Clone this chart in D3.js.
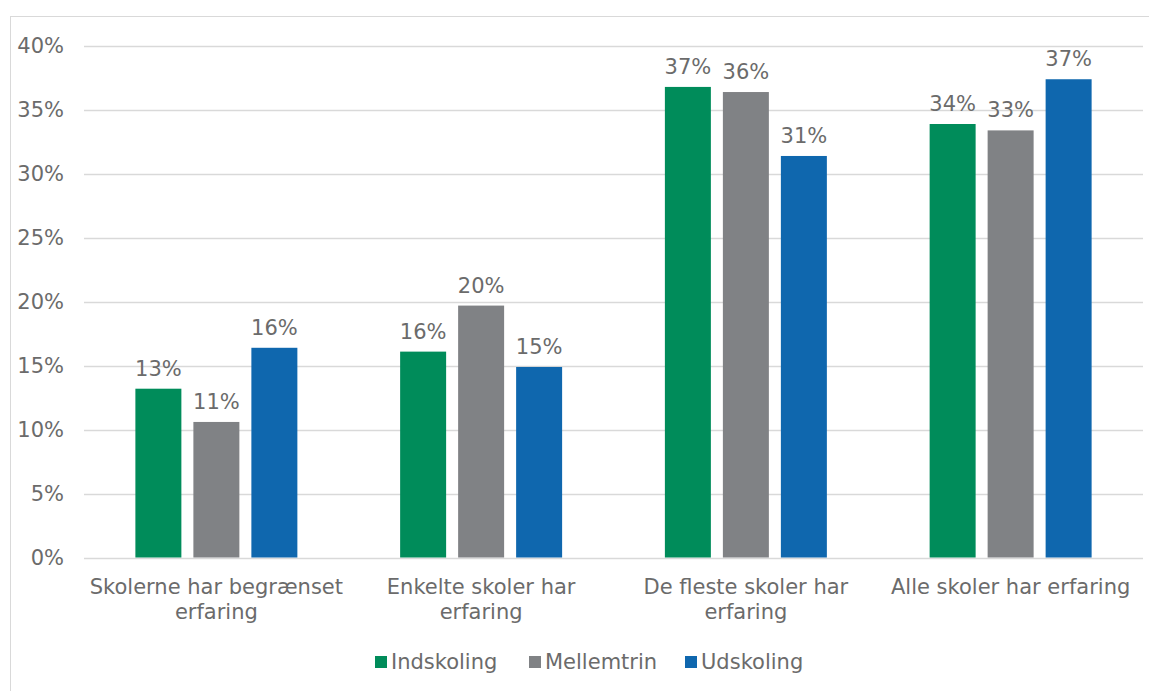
<!DOCTYPE html>
<html>
<head>
<meta charset="utf-8">
<script src="https://cdn.jsdelivr.net/npm/d3@7"></script>
<style>
  body { margin: 0; background: #fff; }
  text { font-family: "DejaVu Sans", Verdana, sans-serif; fill: #6b6b6b; }
</style>
</head>
<body>
<div id="chart-area"></div>
<script>
var categories = [["Skolerne har begrænset", "erfaring"], ["Enkelte skoler har", "erfaring"], ["De fleste skoler har", "erfaring"], ["Alle skoler har erfaring"]];
var seriesNames = ["Indskoling", "Mellemtrin", "Udskoling"];
var indskoling = [13.2, 16.1, 36.8, 33.9];
var mellemtrin = [10.6, 19.7, 36.4, 33.4];
var udskoling = [16.4, 14.9, 31.4, 37.4];
var yTicks = [0, 5, 10, 15, 20, 25, 30, 35, 40];
var colors = ["#008c5a", "#808285", "#0f67ae"];

var width = 1149, height = 691;
var margin = {top: 46, right: 6, bottom: 134, left: 84};
var plotW = width - margin.left - margin.right;
var plotH = height - margin.top - margin.bottom;
var fontSize = "21px";

var svg = d3.select("#chart-area").append("svg")
    .attr("width", width)
    .attr("height", height);

// outer chart border
svg.append("rect")
    .attr("x", 10.5).attr("y", 16.5)
    .attr("width", width).attr("height", height)
    .attr("fill", "none").attr("stroke", "#d9d9d9");

var g = svg.append("g")
    .attr("transform", "translate(" + margin.left + "," + margin.top + ")");

var data = categories.map((c, i) => ({cat: i, values: [indskoling[i], mellemtrin[i], udskoling[i]]}));

var x0 = d3.scaleBand()
    .domain(d3.range(categories.length))
    .range([0, plotW]);

var x1 = d3.scaleBand()
    .domain(d3.range(seriesNames.length))
    .range([0, x0.bandwidth()])
    .paddingInner(0.207)
    .paddingOuter(0.886);

var y = d3.scaleLinear()
    .domain([0, 40])
    .range([plotH + 0.5, 0]);

// gridlines
g.selectAll(".grid").data(yTicks).enter()
    .append("line")
    .attr("x1", 0).attr("x2", plotW)
    .attr("y1", d => Math.round(y(d)) + 0.5)
    .attr("y2", d => Math.round(y(d)) + 0.5)
    .attr("stroke", "#d9d9d9").attr("stroke-width", 1.5);

// y axis labels
var leftAxis = d3.axisLeft(y)
    .tickValues(yTicks)
    .tickSize(0)
    .tickPadding(20)
    .tickFormat(d => d + "%");
var ya = g.append("g").attr("class", "left axis").call(leftAxis);
ya.select(".domain").remove();
ya.selectAll("text").attr("font-size", fontSize).attr("fill", "#6b6b6b")
    .attr("font-family", "DejaVu Sans, Verdana, sans-serif");

// bars
var groups = g.selectAll(".group").data(data).enter()
    .append("g")
    .attr("transform", d => "translate(" + x0(d.cat) + ",0)");

groups.selectAll("rect").data(d => d.values).enter()
    .append("rect")
    .attr("x", (d, i) => x1(i))
    .attr("y", d => y(d))
    .attr("width", x1.bandwidth())
    .attr("height", d => y(0) - y(d))
    .attr("fill", (d, i) => colors[i]);

groups.selectAll(".lbl").data(d => d.values).enter()
    .append("text")
    .attr("x", (d, i) => x1(i) + x1.bandwidth() / 2)
    .attr("y", d => y(d) - 13)
    .attr("text-anchor", "middle")
    .attr("font-size", fontSize)
    .text(d => Math.round(d) + "%");

// category labels
var cl = g.selectAll(".cat").data(categories).enter()
    .append("text")
    .attr("x", (d, i) => x0(i) + x0.bandwidth() / 2)
    .attr("y", plotH + 37)
    .attr("text-anchor", "middle")
    .attr("font-size", fontSize);
cl.selectAll("tspan").data(d => d).enter()
    .append("tspan")
    .attr("x", function() { return this.parentNode.getAttribute("x"); })
    .attr("dy", (d, i) => i === 0 ? 0 : 25)
    .text(d => d);

// legend
var legendX = [375, 529, 685];
var lg = svg.selectAll(".legend").data(seriesNames).enter()
    .append("g")
    .attr("transform", (d, i) => "translate(" + legendX[i] + ",656)");
lg.append("rect")
    .attr("width", 12).attr("height", 12)
    .attr("fill", (d, i) => colors[i]);
lg.append("text")
    .attr("x", 16).attr("y", 13)
    .attr("font-size", fontSize)
    .text(d => d);
</script>
</body>
</html>
